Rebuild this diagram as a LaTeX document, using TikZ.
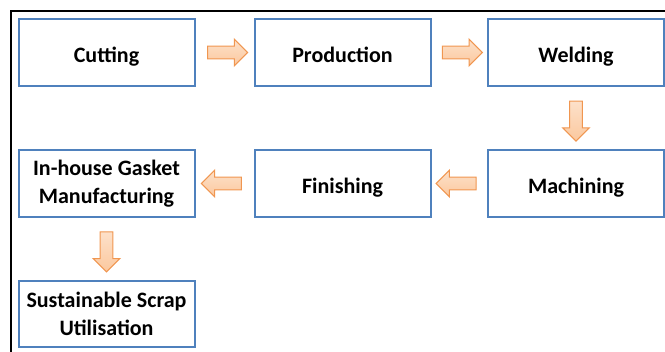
\documentclass[tikz,border=0pt]{standalone}
\usepackage{fontspec}
\setmainfont{Carlito}
\usetikzlibrary{shapes.arrows,calc}

\definecolor{boxblue}{RGB}{79,129,189}
\definecolor{arrowfill}{RGB}{251,200,158}
\definecolor{arrowline}{RGB}{240,150,80}

\tikzset{
  stepbox/.style={draw=boxblue, line width=1.5pt, fill=white, minimum width=132pt, minimum height=50pt,
    align=center, font=\fontsize{16.5}{21}\selectfont\bfseries, inner sep=2pt},
  oneline/.style={text height=18.5pt, text depth=3.5pt},
  flowarrow/.style={single arrow, draw=arrowline, line width=0.75pt, top color=arrowfill!55!white, bottom color=arrowfill,
    minimum height=30pt, inner sep=4.4pt, single arrow head extend=5.2pt, single arrow head indent=0pt}
}

\begin{document}
\begin{tikzpicture}[x=0.75pt,y=0.75pt,yscale=-1,xscale=1]
\useasboundingbox (0,0) rectangle (665,352);

%Frame
\draw [line width=1.9pt] (11,352) -- (11,11) -- (665,11) ;

% Process boxes
\node [stepbox, oneline] (cutting) at (106.5,52.5) {Cutting};
\node [stepbox, oneline] (production) at (342.5,52.5) {Production};
\node [stepbox, oneline] (welding) at (576,52.5) {Welding};
\node [stepbox, oneline] (machining) at (576,183.5) {Machining};
\node [stepbox, oneline] (finishing) at (342.5,183.5) {Finishing};
\node [stepbox] (gasket) at (106.5,183.5) {In-house Gasket\\Manufacturing};
\node [stepbox] (scrap) at (106.5,314) {Sustainable Scrap\\Utilisation};

% Block arrows
\node [flowarrow] (a1) at ($(cutting.east)!0.5!(production.west)$) {};
\node [flowarrow] (a2) at ($(production.east)!0.5!(welding.west)$) {};
\node [flowarrow, shape border rotate=270] (a3) at ($(welding.south)!0.5!(machining.north)$) {};
\node [flowarrow, shape border rotate=180] (a4) at ($(machining.west)!0.5!(finishing.east)$) {};
\node [flowarrow, shape border rotate=180] (a5) at ($(finishing.west)!0.5!(gasket.east)$) {};
\node [flowarrow, shape border rotate=270] (a6) at ($(gasket.south)!0.5!(scrap.north)$) {};

\end{tikzpicture}
\end{document}
